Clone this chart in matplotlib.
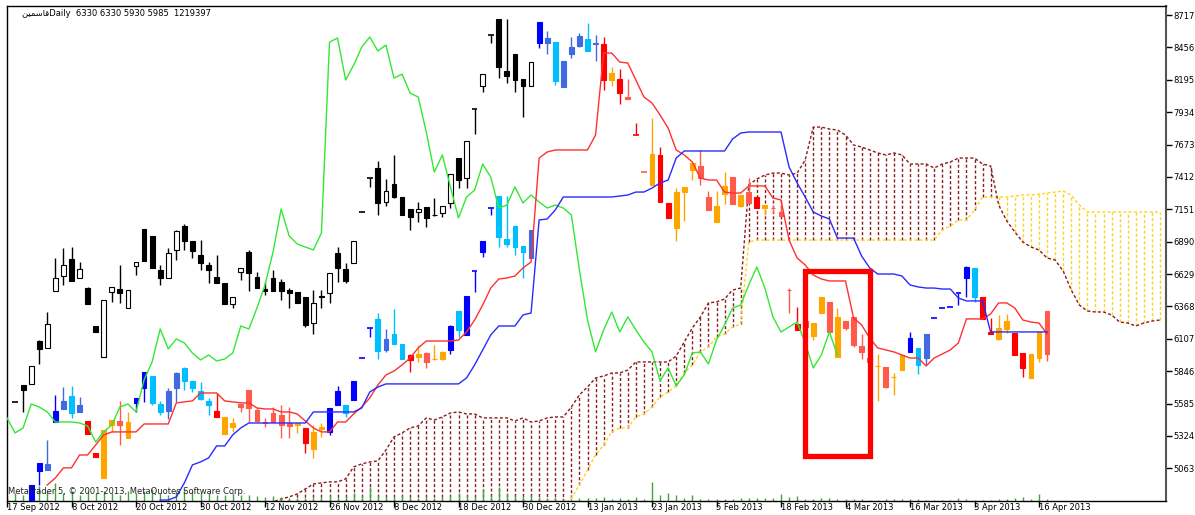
import numpy as np
import matplotlib
matplotlib.use("Agg")
import matplotlib.pyplot as plt
from matplotlib.patches import Rectangle
from matplotlib.transforms import ScaledTranslation

plt.rcParams['font.family'] = ['DejaVu Sans']

# ── Data ─────────────────────────────────────────────────────────────────────

# symbol in visual order (Arabic presentation forms, right-to-left already laid out)
SYMBOL_VISUAL = "\uFEE6\uFEF4\uFEE4\uFEB3\uFE8E\uFED7"
HEADER = "Daily  6330 6330 5930 5985  1219397"
COPYRIGHT = "MetaTrader 5, \u00a9 2001-2013, MetaQuotes Software Corp."

DATE_LABELS = ["17 Sep 2012", "8 Oct 2012", "20 Oct 2012", "30 Oct 2012", "12 Nov 2012",
               "26 Nov 2012", "8 Dec 2012", "18 Dec 2012", "30 Dec 2012", "13 Jan 2013",
               "23 Jan 2013", "5 Feb 2013", "18 Feb 2013", "4 Mar 2013", "16 Mar 2013",
               "3 Apr 2013", "16 Apr 2013"]
DATE_STEP = 8          # one date label every 8 bars

PRICE_TICKS = [5063, 5324, 5585, 5846, 6107, 6368, 6629, 6890, 7151, 7412,
               7673, 7934, 8195, 8456, 8717]

# black / white candles, bars 1..65
BW_START = 1
BW_OPEN = [5595, 5735, 5743, 6089, 6033, 6492, 6613, 6750, 6597, 6516, 6210, 5960, 6484, 6508,
           6355, 6694, 6992, 6936, 6661, 6597, 6823, 7016, 6895, 6782, 6702, 6605, 6557, 6387,
           6645, 6807, 6605, 6505, 6597, 6565, 6500, 6484, 6444, 6234, 6448, 6476, 6799, 6670,
           6718, 7129, 7403, 7484, 7210, 7355, 7250, 7153, 7129, 7169, 7108, 7121, 7202, 7564,
           7403, 7959, 8145, 8556, 8685, 8266, 8403, 8201, 8145]
BW_HIGH = [5595, 5735, 5888, 6097, 6323, 6758, 6839, 6847, 6726, 6525, 6210, 6420, 6525, 6702,
           6500, 6726, 6992, 6936, 6702, 6839, 6984, 7032, 6895, 6903, 6726, 6782, 6557, 6444,
           6678, 6823, 6645, 6565, 6661, 6589, 6516, 6484, 6444, 6500, 6500, 6637, 6847, 6718,
           6895, 7129, 7403, 7540, 7395, 7589, 7250, 7153, 7210, 7169, 7242, 7177, 7435, 7564,
           7701, 7959, 8241, 8556, 8685, 8685, 8403, 8201, 8338]
BW_LOW = [5595, 5517, 5743, 5904, 6033, 6492, 6541, 6573, 6597, 6387, 6162, 5960, 6404, 6396,
          6355, 6621, 6734, 6678, 6541, 6597, 6742, 6823, 6758, 6661, 6557, 6557, 6387, 6355,
          6581, 6492, 6516, 6460, 6492, 6420, 6355, 6396, 6202, 6146, 6355, 6396, 6565, 6557,
          6718, 7129, 7331, 7105, 7177, 7242, 7105, 6984, 7049, 7008, 7097, 7089, 7161, 7322,
          7322, 7758, 8096, 8491, 8209, 8169, 8096, 7895, 8145]
BW_CLOSE = [5595, 5694, 5888, 6025, 6226, 6597, 6702, 6573, 6670, 6387, 6162, 6420, 6525, 6476,
            6500, 6726, 6734, 6678, 6597, 6799, 6976, 6895, 6815, 6718, 6661, 6557, 6387, 6444,
            6678, 6637, 6516, 6495, 6492, 6492, 6476, 6396, 6218, 6396, 6440, 6637, 6678, 6573,
            6895, 7129, 7403, 7202, 7298, 7250, 7105, 7089, 7153, 7081, 7102, 7177, 7435, 7387,
            7701, 7959, 8241, 8556, 8298, 8225, 8193, 8145, 8338]

# coloured candles, bars 3..129 (B blue, R royal blue, C sky blue, D red, T tomato, O orange)
CL_START = 3
CL_STATE = list("BBRBRCRDDO" "OTOBBCCRRC" "CCCDOOTTTT" "TTTODOOBBC" "BBBCRCCDOT"
                "OOBCBBBBCC" "CCRBRCRRRC" "RDODTDTODD" "OOOTTOOTOT" "DOTTTDTOOT"
                "OTTTTOTOOB" "CRBBBBBCDD" "OODDOOT")
CL_OPEN = [4810, 5041, 5049, 5436, 5541, 5509, 5517, 5444, 5186, 5372, 5452, 5444, 5436, 5590,
           5710, 5590, 5517, 5525, 5710, 5767, 5710, 5622, 5573, 5477, 5477, 5428, 5581, 5694,
           5533, 5436, 5509, 5493, 5428, 5428, 5388, 5356, 5396, 5356, 5573, 5509, 5614, 5952,
           6194, 6009, 6017, 6065, 5944, 5976, 5984, 5992, 5947, 6001, 6017, 6178, 6138, 6653,
           6807, 7161, 6928, 6871, 6847, 6807, 6758, 8491, 8491, 8185, 8137, 8403, 8467, 8427,
           8483, 8483, 8250, 8201, 8056, 7750, 7451, 7597, 7589, 7202, 7290, 7331, 7524, 7500,
           7250, 7177, 7339, 7411, 7266, 7290, 7250, 7185, 7164, 7129, 6503, 6226, 6250, 6234,
           6444, 6404, 6283, 6250, 6283, 6049, 5950, 5891, 5880, 5802, 5976, 6001, 5896, 5952,
           6275, 6355, 6363, 6476, 6597, 6444, 6444, 6162, 6194, 6250, 6154, 5992, 5984, 6162,
           6330]
CL_HIGH = [4928, 5106, 5291, 5654, 5718, 5727, 5638, 5444, 5186, 5372, 5452, 5606, 5517, 5630,
           5839, 5807, 5606, 5710, 5839, 5880, 5767, 5759, 5630, 5670, 5477, 5469, 5581, 5694,
           5549, 5469, 5557, 5573, 5557, 5428, 5388, 5412, 5428, 5549, 5727, 5573, 5767, 5952,
           6194, 6315, 6186, 6347, 6065, 5984, 6057, 6001, 6057, 6009, 6218, 6331, 6452, 6653,
           6895, 7161, 7258, 7258, 7016, 6855, 6984, 8661, 8588, 8499, 8346, 8540, 8572, 8653,
           8556, 8540, 8298, 8282, 8201, 7846, 7451, 7887, 7653, 7202, 7322, 7331, 7524, 7629,
           7298, 7298, 7451, 7411, 7266, 7403, 7250, 7185, 7185, 7185, 6516, 6363, 6300, 6234,
           6444, 6404, 6355, 6250, 6283, 6146, 6000, 5984, 5880, 5831, 5976, 6162, 6033, 6146,
           6275, 6355, 6363, 6476, 6694, 6678, 6444, 6275, 6299, 6307, 6154, 5992, 5984, 6162,
           6330]
CL_LOW = [4800, 4928, 5049, 5436, 5541, 5469, 5517, 5340, 5154, 4985, 5356, 5251, 5307, 5517,
          5598, 5573, 5493, 5461, 5598, 5694, 5678, 5614, 5493, 5477, 5340, 5356, 5517, 5436,
          5444, 5396, 5436, 5307, 5307, 5348, 5186, 5146, 5316, 5332, 5573, 5477, 5614, 5952,
          6122, 5944, 6001, 6065, 5944, 5839, 5920, 5872, 5936, 5936, 5984, 6122, 6138, 6484,
          6766, 7105, 6847, 6847, 6782, 6597, 6758, 8451, 8403, 8153, 8137, 8370, 8459, 8427,
          8346, 8113, 8145, 8000, 8040, 7750, 7451, 7347, 7210, 7081, 6895, 7057, 7387, 7347,
          7145, 7049, 7194, 7194, 7169, 7202, 7161, 7105, 7121, 7097, 6315, 6178, 6150, 6097,
          6315, 6162, 5960, 6178, 6041, 5944, 5900, 5606, 5710, 5654, 5855, 6001, 5823, 5896,
          6275, 6355, 6363, 6379, 6444, 6404, 6267, 6146, 6097, 6154, 5976, 5799, 5791, 5920,
          5930]
CL_CLOSE = [4928, 5106, 5098, 5525, 5606, 5646, 5573, 5340, 5154, 4985, 5412, 5412, 5307, 5630,
            5839, 5807, 5581, 5686, 5831, 5872, 5767, 5686, 5606, 5525, 5340, 5396, 5557, 5549,
            5444, 5428, 5436, 5412, 5404, 5412, 5267, 5219, 5380, 5549, 5686, 5573, 5767, 5952,
            6194, 6267, 6105, 6146, 6065, 5936, 5960, 5920, 5941, 5944, 6210, 6331, 6452, 6653,
            6895, 7161, 7258, 6911, 7016, 6855, 6984, 8661, 8532, 8499, 8346, 8459, 8548, 8524,
            8491, 8193, 8193, 8088, 8040, 7750, 7451, 7347, 7210, 7081, 7000, 7290, 7468, 7403,
            7145, 7049, 7274, 7194, 7177, 7202, 7161, 7161, 7158, 7097, 6497, 6178, 6200, 6130,
            6315, 6162, 5960, 6194, 6057, 6001, 5920, 5885, 5718, 5796, 5855, 6113, 6033, 6146,
            6275, 6355, 6363, 6476, 6686, 6678, 6267, 6146, 6105, 6186, 5976, 5872, 5791, 5952,
            5985]

# chikou span (green), bars 0..103
GREEN_START = 0
GREEN = [5469, 5348, 5388, 5581, 5557, 5517, 5436, 5436, 5436, 5428, 5404, 5275, 5356, 5412,
         5557, 5581, 5517, 5775, 5920, 6186, 6025, 6105, 6073, 5992, 5936, 5976, 5928, 5944,
         5992, 6210, 6186, 6355, 6541, 6807, 7153, 6936, 6871, 6847, 6823, 6960, 8499, 8532,
         8193, 8314, 8459, 8540, 8427, 8475, 8209, 8241, 8088, 8056, 7774, 7451, 7589, 7331,
         7081, 7250, 7306, 7516, 7411, 7161, 7185, 7331, 7202, 7266, 7210, 7161, 7185, 7161,
         7105, 6661, 6258, 6001, 6178, 6323, 6162, 6283, 6178, 6081, 6001, 5767, 5872, 5727,
         5815, 5992, 6001, 5904, 6097, 6218, 6355, 6379, 6541, 6686, 6516, 6283, 6162, 6202,
         6242, 6073, 5872, 5976, 6162, 5976]

# tenkan-sen (red), bars 5..129
RED_START = 5
RED = [4928, 4985, 5066, 5066, 5170, 5170, 5251, 5332, 5356, 5356, 5356, 5356, 5420, 5420,
       5420, 5420, 5590, 5598, 5606, 5670, 5670, 5670, 5606, 5598, 5590, 5590, 5549, 5541,
       5541, 5517, 5517, 5501, 5444, 5388, 5356, 5356, 5436, 5436, 5501, 5557, 5630, 5735,
       5815, 5847, 5896, 5952, 6033, 6089, 6089, 6089, 6089, 6097, 6162, 6258, 6379, 6516,
       6589, 6597, 6613, 6678, 6726, 7564, 7613, 7629, 7629, 7629, 7629, 7629, 7750, 8411,
       8411, 8338, 8330, 8193, 8056, 8008, 7911, 7806, 7629, 7589, 7532, 7403, 7387, 7387,
       7290, 7282, 7282, 7339, 7339, 7339, 7242, 7226, 6903, 6758, 6702, 6621, 6589, 6573,
       6573, 6573, 6275, 6218, 6113, 6033, 6017, 6001, 5976, 5952, 5952, 5888, 5952, 5984,
       6017, 6073, 6267, 6267, 6267, 6307, 6396, 6396, 6355, 6258, 6242, 6234, 6146]

# kijun-sen (blue), bars 19..129
BLUE_START = 19
BLUE = [4807, 4807, 4832, 4945, 5090, 5114, 5146, 5243, 5243, 5332, 5388, 5428, 5428, 5428,
        5428, 5428, 5428, 5428, 5428, 5517, 5517, 5517, 5517, 5517, 5517, 5549, 5678, 5718,
        5743, 5743, 5743, 5743, 5743, 5743, 5743, 5743, 5743, 5743, 5791, 5896, 6017, 6138,
        6210, 6210, 6210, 6299, 6315, 7065, 7073, 7145, 7250, 7250, 7250, 7250, 7250, 7250,
        7250, 7258, 7266, 7290, 7290, 7322, 7363, 7387, 7564, 7621, 7621, 7621, 7621, 7621,
        7621, 7718, 7766, 7774, 7774, 7774, 7774, 7774, 7492, 7363, 7250, 7129, 7097, 7073,
        6919, 6919, 6919, 6774, 6678, 6629, 6629, 6629, 6613, 6541, 6525, 6516, 6516, 6508,
        6508, 6436, 6412, 6412, 6412, 6162, 6162, 6162, 6162, 6162, 6162, 6162, 6162]

# senkou spans, bars 32..143 (span X drawn dark red, span Y drawn gold)
SPAN_START = 32
SPAN_X = [4767, 4791, 4816, 4832, 4856, 4896, 4936, 4945, 4953, 4953, 4977, 5074, 5098, 5114,
          5122, 5210, 5316, 5348, 5388, 5404, 5469, 5452, 5477, 5509, 5517, 5501, 5501, 5469,
          5469, 5469, 5469, 5444, 5469, 5436, 5444, 5469, 5477, 5477, 5557, 5654, 5718, 5791,
          5807, 5831, 5831, 5855, 5920, 5920, 5920, 5920, 5920, 5968, 6081, 6194, 6283, 6396,
          6404, 6428, 6500, 6516, 7347, 7395, 7427, 7443, 7443, 7427, 7443, 7548, 7814, 7814,
          7798, 7790, 7750, 7669, 7653, 7629, 7605, 7589, 7605, 7589, 7516, 7516, 7516, 7484,
          7516, 7532, 7564, 7564, 7564, 7516, 7500, 7185, 7057, 6968, 6887, 6847, 6823, 6758,
          6742, 6653, 6500, 6379, 6331, 6323, 6323, 6299, 6242, 6234, 6210, 6234, 6250, 6258]
SPAN_Y = [4700, 4700, 4700, 4700, 4700, 4700, 4700, 4700, 4700, 4700, 4700, 4700, 4700, 4700,
          4700, 4700, 4700, 4700, 4700, 4700, 4700, 4700, 4700, 4700, 4700, 4700, 4700, 4700,
          4750, 4750, 4750, 4750, 4750, 4750, 4750, 4750, 4750, 4750, 4824, 4928, 5049, 5170,
          5251, 5356, 5388, 5388, 5477, 5501, 5557, 5638, 5678, 5727, 5831, 5896, 6001, 6041,
          6122, 6146, 6202, 6226, 6887, 6903, 6903, 6903, 6903, 6903, 6903, 6903, 6903, 6903,
          6903, 6903, 6903, 6903, 6903, 6903, 6903, 6903, 6903, 6903, 6903, 6903, 6903, 6903,
          6984, 7016, 7065, 7065, 7145, 7250, 7250, 7250, 7250, 7258, 7266, 7266, 7274, 7282,
          7290, 7298, 7266, 7185, 7129, 7129, 7129, 7129, 7129, 7129, 7129, 7129, 7129, 7129]

# volume (millions of shares), bars 0..129
VOLUME = [2.4, 4.8, 3.6, 4.8, 9.0, 6.0, 10.8, 4.8, 6.0, 3.6, 6.0, 4.8, 6.0, 4.8, 3.6, 6.0, 4.8,
          6.0, 7.2, 4.8, 3.6, 6.0, 7.2, 6.0, 4.8, 4.8, 3.6, 3.6, 4.8, 3.6, 3.6, 3.0, 2.4, 3.0,
          2.4, 1.8, 1.8, 1.8, 2.4, 3.0, 3.6, 2.4, 3.0, 4.8, 3.6, 8.4, 3.6, 3.0, 2.4, 3.6, 2.4,
          1.8, 3.0, 1.8, 2.4, 3.6, 4.8, 3.6, 3.0, 7.2, 3.6, 8.4, 4.8, 3.6, 3.0, 3.6, 2.4, 1.8,
          2.4, 1.8, 1.2, 1.8, 1.8, 1.8, 2.4, 1.2, 1.8, 1.2, 2.4, 1.2, 11.4, 3.6, 4.8, 3.6, 1.8,
          3.6, 1.2, 1.2, 1.2, 1.2, 1.2, 1.8, 1.8, 1.8, 1.8, 1.8, 4.2, 2.4, 3.0, 1.2, 1.2, 1.8,
          1.8, 1.2, 1.2, 1.2, 1.2, 0.6, 0.6, 1.2, 1.2, 1.2, 1.2, 1.2, 0.6, 0.6, 0.6, 0.6, 1.8,
          1.2, 0.6, 0.6, 0.6, 1.2, 1.2, 1.8, 2.4, 1.2, 4.2, 1.2]

# highlighted region (red frame) in bars / price
BOX_BARS = (99.0, 107.0)
BOX_PRICES = (5162, 6657)

# ── Style ─────────────────────────────────────────────────────────────────────
STATE_COLORS = {"B": "#0000ff", "R": "#4169e1", "C": "#00bfff",
                "D": "#ff0000", "T": "#ff5a4a", "O": "#ffa500"}
DASH = (0, (2.2, 1.6))
FONT = 6.0


def draw_candles(ax, start, o, h, l, c, face, edge, wick):
    x = np.arange(start, start + len(o))
    o, h, l, c = (np.asarray(v, dtype=float) for v in (o, h, l, c))
    face = np.asarray(face, dtype=object)
    edge = np.asarray(edge, dtype=object)
    ax.vlines(x, l, h, colors=list(wick) if not isinstance(wick, str) else wick,
              lw=1.0, zorder=3)
    flat = np.isclose(o, c)
    bot = np.minimum(o, c)
    ht = np.abs(c - o)
    ax.bar(x[~flat], ht[~flat], bottom=bot[~flat], width=0.6,
           color=list(face[~flat]), edgecolor=list(edge[~flat]), lw=0.8, zorder=4)
    ax.hlines(o[flat], x[flat] - 0.35, x[flat] + 0.35,
              colors=list(edge[flat]), lw=1.2, zorder=4)


def main() -> None:
    fig = plt.figure(figsize=(11.95, 5.15), dpi=100)
    W, H = 1195, 515
    ax = fig.add_axes([7 / W, 14.5 / H, 1159 / W, 494.5 / H])
    ax.set_xlim(0, 1159 / 8.0625)
    ax.set_ylim(4803, 8790)

    # cloud hatching and span lines
    sx = np.arange(SPAN_START, SPAN_START + len(SPAN_X))
    span_x = np.array(SPAN_X, dtype=float)
    span_y = np.array(SPAN_Y, dtype=float)
    up = span_x >= span_y
    ax.vlines(sx[up], span_y[up], span_x[up], colors="#8b1a1a", lw=1.0,
              linestyles=[DASH], zorder=1)
    ax.vlines(sx[~up], span_x[~up], span_y[~up], colors="#ffd21f", lw=1.0,
              linestyles=[DASH], zorder=1)
    ax.plot(sx, span_y, color="#ffd21f", lw=1.0, ls=DASH, zorder=1)
    ax.plot(sx, span_x, color="#8b1a1a", lw=1.0, ls=DASH, zorder=1)

    # volume histogram along the bottom
    vx = np.arange(len(VOLUME))
    ax.vlines(vx, 0, np.array(VOLUME) / 302.0, colors="#3aa83a", lw=1.0,
              transform=ax.get_xaxis_transform(), zorder=2)

    # black / white candles
    bw_up = [c_ > o_ for o_, c_ in zip(BW_OPEN, BW_CLOSE)]
    draw_candles(ax, BW_START, BW_OPEN, BW_HIGH, BW_LOW, BW_CLOSE,
                 ["white" if u else "black" for u in bw_up],
                 ["black"] * len(BW_OPEN), "black")

    # coloured candles
    cols = [STATE_COLORS[s] for s in CL_STATE]
    draw_candles(ax, CL_START, CL_OPEN, CL_HIGH, CL_LOW, CL_CLOSE, cols, cols, cols)

    # ichimoku lines
    ax.plot(np.arange(GREEN_START, GREEN_START + len(GREEN)), GREEN,
            color="#33e833", lw=1.0, zorder=5)
    ax.plot(np.arange(RED_START, RED_START + len(RED)), RED,
            color="#ff3030", lw=1.0, zorder=5)
    ax.plot(np.arange(BLUE_START, BLUE_START + len(BLUE)), BLUE,
            color="#2a2aff", lw=1.0, zorder=5)

    # highlight frame
    ax.add_patch(Rectangle((BOX_BARS[0], BOX_PRICES[0]), BOX_BARS[1] - BOX_BARS[0],
                           BOX_PRICES[1] - BOX_PRICES[0], fill=False,
                           edgecolor="#ff0000", lw=3.8, joinstyle="miter", zorder=6))

    # axes styling
    for s in ax.spines.values():
        s.set_color("black")
        s.set_linewidth(1.0)
    ax.spines["right"].set_color("#555555")
    ax.spines["right"].set_linewidth(1.5)
    ax.yaxis.tick_right()
    ax.set_yticks(PRICE_TICKS)
    ax.set_yticklabels([str(p) for p in PRICE_TICKS])
    ax.set_xticks(np.arange(len(DATE_LABELS)) * DATE_STEP)
    ax.set_xticklabels(DATE_LABELS)
    shift = ScaledTranslation(3.5 / 100, 0, fig.dpi_scale_trans)
    for lbl in ax.get_xticklabels():
        lbl.set_horizontalalignment("left")
        lbl.set_transform(lbl.get_transform() + shift)
    ax.tick_params(axis="y", direction="out", length=4, width=1, pad=1,
                   labelsize=FONT, colors="black")
    ax.tick_params(axis="x", direction="out", length=4, width=1, pad=-2.2,
                   labelsize=FONT, colors="black")

    fig.text(22 / W, 1 - 14 / H, SYMBOL_VISUAL + HEADER, fontsize=FONT,
             ha="left", va="center", color="black")
    fig.text(8 / W, 1 - 492 / H, COPYRIGHT, fontsize=FONT, ha="left", va="center",
             color="#222222", zorder=10)

    fig.savefig("out.png", dpi=100)
    plt.close(fig)


if __name__ == "__main__":
    main()
